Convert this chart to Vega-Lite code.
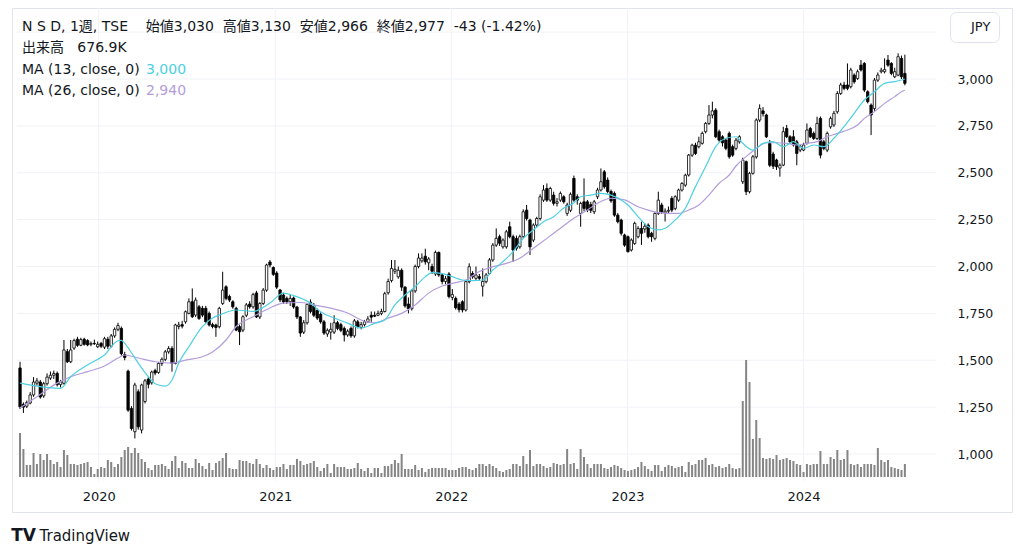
{
  "$schema": "https://vega.github.io/schema/vega-lite/v6.json",
  "width": 1000,
  "height": 504,
  "autosize": {"type": "none"},
  "padding": {"left": 12, "top": 8, "right": 12, "bottom": 45},
  "background": "#ffffff",
  "config": {
    "view": {"stroke": "#e0e3eb", "strokeWidth": 1},
    "font": "DejaVu Sans, Noto Sans CJK JP, sans-serif"
  },
  "title": {
    "text": ["N S D, 1週, TSE\u00a0\u00a0\u00a0 始値3,030\u00a0 高値3,130\u00a0 安値2,966\u00a0 終値2,977\u00a0 -43 (-1.42%)", "出来高\u00a0\u00a0 676.9K"],
    "anchor": "start",
    "frame": "group",
    "orient": "top",
    "offset": -47,
    "dx": 10,
    "fontSize": 14,
    "fontWeight": "normal",
    "font": "DejaVu Sans, Noto Sans CJK JP, sans-serif",
    "color": "#131722",
    "lineHeight": 21
  },
  "datasets": {
    "hgrid": [{"p": 1000}, {"p": 1250}, {"p": 1500}, {"p": 1750}, {"p": 2000}, {"p": 2250}, {"p": 2500}, {"p": 2750}, {"p": 3000}, {"p": 3250}],
    "vgrid": [{"t": "2020-01-01"}, {"t": "2021-01-01"}, {"t": "2022-01-01"}, {"t": "2023-01-01"}, {"t": "2024-01-01"}],
    "bars": [
{"d":"2019-07-22","o":1459,"h":1492,"l":1240,"c":1252,"v":2288},
{"d":"2019-07-29","o":1265,"h":1275,"l":1219,"c":1250,"v":1456},
{"d":"2019-08-05","o":1255,"h":1285,"l":1245,"c":1275,"v":624},
{"d":"2019-08-12","o":1272,"h":1330,"l":1265,"c":1315,"v":624},
{"d":"2019-08-19","o":1315,"h":1410,"l":1305,"c":1384,"v":1248},
{"d":"2019-08-26","o":1378,"h":1405,"l":1365,"c":1390,"v":676},
{"d":"2019-09-02","o":1384,"h":1395,"l":1295,"c":1304,"v":1196},
{"d":"2019-09-09","o":1310,"h":1385,"l":1300,"c":1375,"v":884},
{"d":"2019-09-16","o":1375,"h":1430,"l":1365,"c":1410,"v":1196},
{"d":"2019-09-23","o":1405,"h":1440,"l":1395,"c":1420,"v":884},
{"d":"2019-09-30","o":1420,"h":1445,"l":1400,"c":1430,"v":676},
{"d":"2019-10-07","o":1430,"h":1440,"l":1360,"c":1370,"v":780},
{"d":"2019-10-14","o":1370,"h":1395,"l":1355,"c":1385,"v":520},
{"d":"2019-10-21","o":1377,"h":1608,"l":1370,"c":1555,"v":1404},
{"d":"2019-10-28","o":1546,"h":1560,"l":1485,"c":1492,"v":1144},
{"d":"2019-11-04","o":1492,"h":1608,"l":1485,"c":1555,"v":676},
{"d":"2019-11-11","o":1565,"h":1615,"l":1555,"c":1605,"v":676},
{"d":"2019-11-18","o":1612,"h":1625,"l":1572,"c":1580,"v":624},
{"d":"2019-11-25","o":1580,"h":1620,"l":1575,"c":1610,"v":676},
{"d":"2019-12-02","o":1612,"h":1620,"l":1578,"c":1585,"v":728},
{"d":"2019-12-09","o":1605,"h":1612,"l":1575,"c":1582,"v":780},
{"d":"2019-12-16","o":1585,"h":1600,"l":1575,"c":1590,"v":520},
{"d":"2019-12-23","o":1590,"h":1610,"l":1582,"c":1588,"v":156},
{"d":"2019-12-30","o":1572,"h":1600,"l":1565,"c":1585,"v":416},
{"d":"2020-01-06","o":1590,"h":1598,"l":1565,"c":1575,"v":520},
{"d":"2020-01-13","o":1570,"h":1625,"l":1560,"c":1615,"v":468},
{"d":"2020-01-20","o":1612,"h":1625,"l":1560,"c":1575,"v":884},
{"d":"2020-01-27","o":1575,"h":1640,"l":1568,"c":1630,"v":780},
{"d":"2020-02-03","o":1630,"h":1675,"l":1620,"c":1665,"v":520},
{"d":"2020-02-10","o":1665,"h":1700,"l":1655,"c":1685,"v":676},
{"d":"2020-02-17","o":1670,"h":1680,"l":1525,"c":1535,"v":1040},
{"d":"2020-02-24","o":1530,"h":1545,"l":1500,"c":1515,"v":1404},
{"d":"2020-03-02","o":1442,"h":1450,"l":1225,"c":1234,"v":1560},
{"d":"2020-03-09","o":1243,"h":1255,"l":1125,"c":1136,"v":1248},
{"d":"2020-03-16","o":1119,"h":1380,"l":1083,"c":1368,"v":1508},
{"d":"2020-03-23","o":1332,"h":1345,"l":1130,"c":1145,"v":1248},
{"d":"2020-03-30","o":1128,"h":1375,"l":1110,"c":1368,"v":936},
{"d":"2020-04-06","o":1280,"h":1400,"l":1270,"c":1390,"v":780},
{"d":"2020-04-13","o":1400,"h":1410,"l":1350,"c":1372,"v":468},
{"d":"2020-04-20","o":1380,"h":1445,"l":1370,"c":1437,"v":364},
{"d":"2020-04-27","o":1445,"h":1455,"l":1420,"c":1432,"v":624},
{"d":"2020-05-04","o":1435,"h":1490,"l":1428,"c":1483,"v":624},
{"d":"2020-05-11","o":1483,"h":1515,"l":1470,"c":1505,"v":676},
{"d":"2020-05-18","o":1505,"h":1555,"l":1495,"c":1545,"v":572},
{"d":"2020-05-25","o":1545,"h":1575,"l":1535,"c":1563,"v":416},
{"d":"2020-06-01","o":1563,"h":1575,"l":1439,"c":1483,"v":832},
{"d":"2020-06-08","o":1483,"h":1695,"l":1478,"c":1688,"v":1092},
{"d":"2020-06-15","o":1680,"h":1705,"l":1665,"c":1688,"v":468},
{"d":"2020-06-22","o":1690,"h":1710,"l":1670,"c":1682,"v":832},
{"d":"2020-06-29","o":1705,"h":1765,"l":1695,"c":1759,"v":728},
{"d":"2020-07-06","o":1750,"h":1830,"l":1745,"c":1812,"v":468},
{"d":"2020-07-13","o":1812,"h":1883,"l":1725,"c":1732,"v":468},
{"d":"2020-07-20","o":1741,"h":1835,"l":1730,"c":1821,"v":936},
{"d":"2020-07-27","o":1785,"h":1795,"l":1715,"c":1723,"v":728},
{"d":"2020-08-03","o":1777,"h":1790,"l":1730,"c":1741,"v":572},
{"d":"2020-08-10","o":1777,"h":1790,"l":1700,"c":1705,"v":416},
{"d":"2020-08-17","o":1750,"h":1760,"l":1680,"c":1688,"v":728},
{"d":"2020-08-24","o":1690,"h":1700,"l":1670,"c":1680,"v":364},
{"d":"2020-08-31","o":1688,"h":1695,"l":1625,"c":1675,"v":728},
{"d":"2020-09-07","o":1679,"h":1785,"l":1670,"c":1777,"v":832},
{"d":"2020-09-14","o":1803,"h":1972,"l":1795,"c":1874,"v":988},
{"d":"2020-09-21","o":1892,"h":1900,"l":1820,"c":1830,"v":1248},
{"d":"2020-09-28","o":1840,"h":1850,"l":1810,"c":1821,"v":468},
{"d":"2020-10-05","o":1812,"h":1820,"l":1775,"c":1785,"v":416},
{"d":"2020-10-12","o":1777,"h":1785,"l":1655,"c":1661,"v":416},
{"d":"2020-10-19","o":1679,"h":1690,"l":1581,"c":1652,"v":884},
{"d":"2020-10-26","o":1661,"h":1740,"l":1650,"c":1732,"v":832},
{"d":"2020-11-02","o":1740,"h":1805,"l":1730,"c":1795,"v":832},
{"d":"2020-11-09","o":1800,"h":1815,"l":1775,"c":1785,"v":728},
{"d":"2020-11-16","o":1785,"h":1860,"l":1775,"c":1850,"v":676},
{"d":"2020-11-23","o":1859,"h":1870,"l":1725,"c":1731,"v":936},
{"d":"2020-11-30","o":1731,"h":1810,"l":1720,"c":1803,"v":676},
{"d":"2020-12-07","o":1803,"h":1885,"l":1795,"c":1874,"v":468},
{"d":"2020-12-14","o":1874,"h":2015,"l":1865,"c":2008,"v":624},
{"d":"2020-12-21","o":2024,"h":2035,"l":1995,"c":2008,"v":468},
{"d":"2020-12-28","o":1995,"h":2000,"l":1950,"c":1958,"v":364},
{"d":"2021-01-04","o":1965,"h":1975,"l":1880,"c":1890,"v":520},
{"d":"2021-01-11","o":1875,"h":1880,"l":1810,"c":1822,"v":520},
{"d":"2021-01-18","o":1848,"h":1860,"l":1800,"c":1811,"v":676},
{"d":"2021-01-25","o":1830,"h":1840,"l":1800,"c":1812,"v":416},
{"d":"2021-02-01","o":1812,"h":1850,"l":1790,"c":1830,"v":624},
{"d":"2021-02-08","o":1832,"h":1840,"l":1775,"c":1784,"v":624},
{"d":"2021-02-15","o":1784,"h":1790,"l":1720,"c":1731,"v":936},
{"d":"2021-02-22","o":1731,"h":1735,"l":1625,"c":1645,"v":832},
{"d":"2021-03-01","o":1650,"h":1715,"l":1640,"c":1700,"v":624},
{"d":"2021-03-08","o":1700,"h":1805,"l":1690,"c":1798,"v":676},
{"d":"2021-03-15","o":1810,"h":1825,"l":1750,"c":1760,"v":728},
{"d":"2021-03-22","o":1790,"h":1805,"l":1730,"c":1740,"v":832},
{"d":"2021-03-29","o":1765,"h":1775,"l":1715,"c":1725,"v":520},
{"d":"2021-04-05","o":1745,"h":1755,"l":1695,"c":1705,"v":312},
{"d":"2021-04-12","o":1705,"h":1715,"l":1635,"c":1645,"v":468},
{"d":"2021-04-19","o":1640,"h":1670,"l":1625,"c":1660,"v":676},
{"d":"2021-04-26","o":1650,"h":1700,"l":1610,"c":1665,"v":208},
{"d":"2021-05-03","o":1650,"h":1740,"l":1640,"c":1700,"v":676},
{"d":"2021-05-10","o":1700,"h":1710,"l":1660,"c":1670,"v":520},
{"d":"2021-05-17","o":1690,"h":1700,"l":1650,"c":1660,"v":520},
{"d":"2021-05-24","o":1670,"h":1680,"l":1600,"c":1635,"v":520},
{"d":"2021-05-31","o":1635,"h":1665,"l":1625,"c":1655,"v":416},
{"d":"2021-06-07","o":1670,"h":1680,"l":1620,"c":1630,"v":416},
{"d":"2021-06-14","o":1630,"h":1720,"l":1620,"c":1710,"v":468},
{"d":"2021-06-21","o":1705,"h":1715,"l":1670,"c":1680,"v":728},
{"d":"2021-06-28","o":1675,"h":1705,"l":1665,"c":1690,"v":416},
{"d":"2021-07-05","o":1690,"h":1715,"l":1680,"c":1705,"v":312},
{"d":"2021-07-12","o":1705,"h":1735,"l":1700,"c":1720,"v":468},
{"d":"2021-07-19","o":1740,"h":1760,"l":1705,"c":1730,"v":208},
{"d":"2021-07-26","o":1740,"h":1760,"l":1730,"c":1735,"v":468},
{"d":"2021-08-02","o":1740,"h":1765,"l":1735,"c":1750,"v":468},
{"d":"2021-08-09","o":1750,"h":1775,"l":1740,"c":1760,"v":208},
{"d":"2021-08-16","o":1760,"h":1865,"l":1755,"c":1855,"v":572},
{"d":"2021-08-23","o":1860,"h":1935,"l":1850,"c":1920,"v":572},
{"d":"2021-08-30","o":1925,"h":2035,"l":1915,"c":1990,"v":676},
{"d":"2021-09-06","o":1975,"h":2035,"l":1960,"c":1985,"v":884},
{"d":"2021-09-13","o":1945,"h":2000,"l":1935,"c":1980,"v":728},
{"d":"2021-09-20","o":1980,"h":1990,"l":1870,"c":1890,"v":1196},
{"d":"2021-09-27","o":1890,"h":1895,"l":1780,"c":1790,"v":416},
{"d":"2021-10-04","o":1800,"h":1835,"l":1750,"c":1775,"v":416},
{"d":"2021-10-11","o":1775,"h":1880,"l":1765,"c":1870,"v":416},
{"d":"2021-10-18","o":1870,"h":2010,"l":1860,"c":2000,"v":624},
{"d":"2021-10-25","o":2000,"h":2070,"l":1990,"c":2045,"v":364},
{"d":"2021-11-01","o":2030,"h":2070,"l":2020,"c":2045,"v":468},
{"d":"2021-11-08","o":2055,"h":2095,"l":2010,"c":2025,"v":260},
{"d":"2021-11-15","o":2020,"h":2050,"l":1980,"c":2040,"v":416},
{"d":"2021-11-22","o":2000,"h":2015,"l":1960,"c":1975,"v":468},
{"d":"2021-11-29","o":1960,"h":2085,"l":1950,"c":2075,"v":468},
{"d":"2021-12-06","o":2075,"h":2080,"l":1945,"c":1955,"v":468},
{"d":"2021-12-13","o":1955,"h":1965,"l":1905,"c":1920,"v":468},
{"d":"2021-12-20","o":1920,"h":1950,"l":1905,"c":1935,"v":468},
{"d":"2021-12-27","o":1960,"h":1970,"l":1830,"c":1840,"v":364},
{"d":"2022-01-03","o":1835,"h":1880,"l":1820,"c":1850,"v":364},
{"d":"2022-01-10","o":1830,"h":1840,"l":1770,"c":1780,"v":364},
{"d":"2022-01-17","o":1800,"h":1810,"l":1755,"c":1770,"v":468},
{"d":"2022-01-24","o":1812,"h":1820,"l":1755,"c":1768,"v":520},
{"d":"2022-01-31","o":1768,"h":1925,"l":1760,"c":1919,"v":520},
{"d":"2022-02-07","o":1919,"h":2017,"l":1910,"c":1999,"v":416},
{"d":"2022-02-14","o":1963,"h":1975,"l":1935,"c":1945,"v":364},
{"d":"2022-02-21","o":1937,"h":2000,"l":1925,"c":1955,"v":468},
{"d":"2022-02-28","o":1946,"h":1960,"l":1925,"c":1937,"v":676},
{"d":"2022-03-07","o":1895,"h":1990,"l":1840,"c":1920,"v":676},
{"d":"2022-03-14","o":1919,"h":1965,"l":1910,"c":1955,"v":572},
{"d":"2022-03-21","o":1963,"h":2045,"l":1955,"c":2035,"v":676},
{"d":"2022-03-28","o":2035,"h":2125,"l":2025,"c":2114,"v":572},
{"d":"2022-04-04","o":2114,"h":2203,"l":2105,"c":2150,"v":468},
{"d":"2022-04-11","o":2159,"h":2170,"l":2110,"c":2124,"v":312},
{"d":"2022-04-18","o":2105,"h":2150,"l":2095,"c":2141,"v":260},
{"d":"2022-04-25","o":2105,"h":2195,"l":2095,"c":2185,"v":364},
{"d":"2022-05-02","o":2212,"h":2239,"l":2150,"c":2159,"v":416},
{"d":"2022-05-09","o":2159,"h":2170,"l":2025,"c":2088,"v":676},
{"d":"2022-05-16","o":2150,"h":2165,"l":2085,"c":2097,"v":676},
{"d":"2022-05-23","o":2105,"h":2170,"l":2095,"c":2159,"v":572},
{"d":"2022-05-30","o":2159,"h":2305,"l":2150,"c":2292,"v":1092},
{"d":"2022-06-06","o":2301,"h":2328,"l":2245,"c":2256,"v":676},
{"d":"2022-06-13","o":2248,"h":2255,"l":2061,"c":2105,"v":1404},
{"d":"2022-06-20","o":2141,"h":2230,"l":2130,"c":2221,"v":572},
{"d":"2022-06-27","o":2221,"h":2265,"l":2210,"c":2256,"v":676},
{"d":"2022-07-04","o":2256,"h":2385,"l":2245,"c":2372,"v":676},
{"d":"2022-07-11","o":2354,"h":2434,"l":2345,"c":2408,"v":572},
{"d":"2022-07-18","o":2416,"h":2443,"l":2345,"c":2354,"v":468},
{"d":"2022-07-25","o":2354,"h":2425,"l":2345,"c":2416,"v":520},
{"d":"2022-08-01","o":2381,"h":2399,"l":2325,"c":2337,"v":728},
{"d":"2022-08-08","o":2337,"h":2365,"l":2320,"c":2345,"v":676},
{"d":"2022-08-15","o":2354,"h":2400,"l":2345,"c":2390,"v":624},
{"d":"2022-08-22","o":2372,"h":2380,"l":2335,"c":2345,"v":676},
{"d":"2022-08-29","o":2283,"h":2340,"l":2270,"c":2328,"v":1456},
{"d":"2022-09-05","o":2300,"h":2395,"l":2290,"c":2385,"v":676},
{"d":"2022-09-12","o":2470,"h":2485,"l":2345,"c":2354,"v":728},
{"d":"2022-09-19","o":2372,"h":2385,"l":2330,"c":2354,"v":416},
{"d":"2022-09-26","o":2283,"h":2345,"l":2212,"c":2336,"v":1456},
{"d":"2022-10-03","o":2345,"h":2470,"l":2295,"c":2310,"v":1040},
{"d":"2022-10-10","o":2345,"h":2355,"l":2290,"c":2301,"v":676},
{"d":"2022-10-17","o":2330,"h":2345,"l":2285,"c":2300,"v":468},
{"d":"2022-10-24","o":2292,"h":2355,"l":2280,"c":2345,"v":676},
{"d":"2022-10-31","o":2372,"h":2420,"l":2360,"c":2408,"v":676},
{"d":"2022-11-07","o":2408,"h":2523,"l":2400,"c":2452,"v":676},
{"d":"2022-11-14","o":2505,"h":2515,"l":2415,"c":2425,"v":468},
{"d":"2022-11-21","o":2461,"h":2475,"l":2390,"c":2400,"v":416},
{"d":"2022-11-28","o":2400,"h":2410,"l":2340,"c":2350,"v":520},
{"d":"2022-12-05","o":2390,"h":2400,"l":2265,"c":2274,"v":624},
{"d":"2022-12-12","o":2274,"h":2285,"l":2230,"c":2239,"v":572},
{"d":"2022-12-19","o":2248,"h":2255,"l":2165,"c":2177,"v":468},
{"d":"2022-12-26","o":2168,"h":2175,"l":2105,"c":2114,"v":364},
{"d":"2023-01-02","o":2159,"h":2165,"l":2075,"c":2079,"v":312},
{"d":"2023-01-09","o":2088,"h":2150,"l":2080,"c":2141,"v":364},
{"d":"2023-01-16","o":2123,"h":2239,"l":2115,"c":2230,"v":416},
{"d":"2023-01-23","o":2159,"h":2215,"l":2150,"c":2203,"v":520},
{"d":"2023-01-30","o":2203,"h":2239,"l":2115,"c":2177,"v":780},
{"d":"2023-02-06","o":2200,"h":2230,"l":2180,"c":2215,"v":572},
{"d":"2023-02-13","o":2221,"h":2230,"l":2150,"c":2159,"v":416},
{"d":"2023-02-20","o":2177,"h":2185,"l":2132,"c":2159,"v":312},
{"d":"2023-02-27","o":2150,"h":2290,"l":2140,"c":2283,"v":624},
{"d":"2023-03-06","o":2283,"h":2399,"l":2275,"c":2354,"v":624},
{"d":"2023-03-13","o":2328,"h":2340,"l":2280,"c":2292,"v":312},
{"d":"2023-03-20","o":2285,"h":2310,"l":2240,"c":2295,"v":520},
{"d":"2023-03-27","o":2295,"h":2320,"l":2285,"c":2300,"v":624},
{"d":"2023-04-03","o":2363,"h":2375,"l":2290,"c":2301,"v":572},
{"d":"2023-04-10","o":2310,"h":2380,"l":2300,"c":2372,"v":468},
{"d":"2023-04-17","o":2354,"h":2415,"l":2345,"c":2408,"v":520},
{"d":"2023-04-24","o":2408,"h":2450,"l":2400,"c":2443,"v":572},
{"d":"2023-05-01","o":2434,"h":2495,"l":2425,"c":2487,"v":260},
{"d":"2023-05-08","o":2488,"h":2600,"l":2480,"c":2594,"v":780},
{"d":"2023-05-15","o":2594,"h":2655,"l":2585,"c":2647,"v":624},
{"d":"2023-05-22","o":2647,"h":2660,"l":2595,"c":2603,"v":676},
{"d":"2023-05-29","o":2639,"h":2692,"l":2630,"c":2665,"v":884},
{"d":"2023-06-05","o":2657,"h":2720,"l":2650,"c":2710,"v":884},
{"d":"2023-06-12","o":2719,"h":2770,"l":2710,"c":2763,"v":988},
{"d":"2023-06-19","o":2763,"h":2861,"l":2755,"c":2808,"v":624},
{"d":"2023-06-26","o":2808,"h":2879,"l":2790,"c":2830,"v":676},
{"d":"2023-07-03","o":2834,"h":2845,"l":2685,"c":2692,"v":520},
{"d":"2023-07-10","o":2719,"h":2730,"l":2665,"c":2674,"v":572},
{"d":"2023-07-17","o":2692,"h":2700,"l":2640,"c":2660,"v":468},
{"d":"2023-07-24","o":2674,"h":2685,"l":2620,"c":2630,"v":520},
{"d":"2023-07-31","o":2710,"h":2720,"l":2575,"c":2585,"v":676},
{"d":"2023-08-07","o":2639,"h":2650,"l":2585,"c":2594,"v":468},
{"d":"2023-08-14","o":2630,"h":2685,"l":2620,"c":2674,"v":416},
{"d":"2023-08-21","o":2665,"h":2700,"l":2655,"c":2692,"v":468},
{"d":"2023-08-28","o":2452,"h":2580,"l":2440,"c":2568,"v":3952},
{"d":"2023-09-04","o":2559,"h":2565,"l":2381,"c":2399,"v":6084},
{"d":"2023-09-11","o":2399,"h":2505,"l":2390,"c":2497,"v":4940},
{"d":"2023-09-18","o":2497,"h":2595,"l":2490,"c":2585,"v":1976},
{"d":"2023-09-25","o":2585,"h":2790,"l":2575,"c":2781,"v":2964},
{"d":"2023-10-02","o":2781,"h":2865,"l":2770,"c":2843,"v":2028},
{"d":"2023-10-09","o":2830,"h":2850,"l":2800,"c":2815,"v":988},
{"d":"2023-10-16","o":2808,"h":2815,"l":2685,"c":2692,"v":936},
{"d":"2023-10-23","o":2657,"h":2675,"l":2530,"c":2540,"v":988},
{"d":"2023-10-30","o":2600,"h":2612,"l":2520,"c":2535,"v":936},
{"d":"2023-11-06","o":2568,"h":2575,"l":2515,"c":2532,"v":1144},
{"d":"2023-11-13","o":2525,"h":2550,"l":2479,"c":2540,"v":884},
{"d":"2023-11-20","o":2541,"h":2745,"l":2535,"c":2719,"v":936},
{"d":"2023-11-27","o":2736,"h":2755,"l":2685,"c":2692,"v":988},
{"d":"2023-12-04","o":2692,"h":2700,"l":2655,"c":2665,"v":884},
{"d":"2023-12-11","o":2692,"h":2727,"l":2640,"c":2648,"v":832},
{"d":"2023-12-18","o":2665,"h":2675,"l":2540,"c":2603,"v":676},
{"d":"2023-12-25","o":2621,"h":2650,"l":2610,"c":2640,"v":624},
{"d":"2024-01-01","o":2621,"h":2660,"l":2615,"c":2648,"v":260},
{"d":"2024-01-08","o":2657,"h":2763,"l":2650,"c":2728,"v":676},
{"d":"2024-01-15","o":2736,"h":2745,"l":2685,"c":2692,"v":624},
{"d":"2024-01-22","o":2710,"h":2720,"l":2675,"c":2683,"v":676},
{"d":"2024-01-29","o":2683,"h":2799,"l":2675,"c":2763,"v":676},
{"d":"2024-02-05","o":2790,"h":2800,"l":2577,"c":2594,"v":1352},
{"d":"2024-02-12","o":2665,"h":2675,"l":2620,"c":2630,"v":676},
{"d":"2024-02-19","o":2621,"h":2720,"l":2610,"c":2710,"v":676},
{"d":"2024-02-26","o":2745,"h":2800,"l":2735,"c":2790,"v":1040},
{"d":"2024-03-04","o":2755,"h":2830,"l":2745,"c":2817,"v":936},
{"d":"2024-03-11","o":2825,"h":2935,"l":2815,"c":2923,"v":1404},
{"d":"2024-03-18","o":2923,"h":2980,"l":2915,"c":2968,"v":884},
{"d":"2024-03-25","o":2968,"h":2985,"l":2940,"c":2950,"v":936},
{"d":"2024-04-01","o":2968,"h":3083,"l":2940,"c":2950,"v":1404},
{"d":"2024-04-08","o":2959,"h":3060,"l":2950,"c":3048,"v":676},
{"d":"2024-04-15","o":3021,"h":3030,"l":2975,"c":2985,"v":624},
{"d":"2024-04-22","o":3003,"h":3050,"l":2995,"c":3039,"v":676},
{"d":"2024-04-29","o":3074,"h":3101,"l":3040,"c":3048,"v":520},
{"d":"2024-05-06","o":3083,"h":3090,"l":2930,"c":2941,"v":676},
{"d":"2024-05-13","o":2932,"h":2940,"l":2870,"c":2879,"v":676},
{"d":"2024-05-20","o":2861,"h":2870,"l":2701,"c":2808,"v":676},
{"d":"2024-05-27","o":2843,"h":3005,"l":2830,"c":2994,"v":624},
{"d":"2024-06-03","o":2994,"h":3035,"l":2985,"c":3021,"v":1508},
{"d":"2024-06-10","o":3039,"h":3060,"l":3030,"c":3047,"v":884},
{"d":"2024-06-17","o":3039,"h":3110,"l":3030,"c":3050,"v":780},
{"d":"2024-06-24","o":3101,"h":3128,"l":3065,"c":3074,"v":884},
{"d":"2024-07-01","o":3083,"h":3090,"l":3020,"c":3030,"v":520},
{"d":"2024-07-08","o":3012,"h":3060,"l":3005,"c":3039,"v":468},
{"d":"2024-07-15","o":3021,"h":3137,"l":3015,"c":3119,"v":416},
{"d":"2024-07-22","o":3110,"h":3125,"l":3000,"c":3012,"v":364},
{"d":"2024-07-29","o":3030,"h":3130,"l":2966,"c":2977,"v":677}
    ],
    "ma13": [
{"d":"2019-07-22","m":1378},{"d":"2019-08-19","m":1365},{"d":"2019-09-16","m":1355},{"d":"2019-10-14","m":1350},
{"d":"2019-11-04","m":1412},{"d":"2019-12-09","m":1475},{"d":"2020-01-13","m":1528},{"d":"2020-02-10","m":1604},
{"d":"2020-02-17","m":1606},{"d":"2020-02-24","m":1590},{"d":"2020-03-09","m":1540},{"d":"2020-03-23","m":1485},
{"d":"2020-04-13","m":1412},{"d":"2020-04-27","m":1375},{"d":"2020-05-18","m":1362},{"d":"2020-06-01","m":1395},
{"d":"2020-06-15","m":1485},{"d":"2020-07-06","m":1572},{"d":"2020-08-03","m":1679},{"d":"2020-08-24","m":1725},
{"d":"2020-09-07","m":1741},{"d":"2020-10-12","m":1768},{"d":"2020-11-16","m":1760},{"d":"2020-12-21","m":1805},
{"d":"2021-01-18","m":1858},{"d":"2021-02-08","m":1845},{"d":"2021-03-15","m":1805},{"d":"2021-04-05","m":1759},
{"d":"2021-05-03","m":1725},{"d":"2021-05-31","m":1698},{"d":"2021-06-28","m":1672},{"d":"2021-07-26","m":1697},
{"d":"2021-08-16","m":1715},{"d":"2021-09-06","m":1795},{"d":"2021-09-27","m":1848},{"d":"2021-10-18","m":1892},
{"d":"2021-11-08","m":1946},{"d":"2021-11-22","m":1967},{"d":"2021-12-13","m":1962},{"d":"2022-01-03","m":1946},
{"d":"2022-01-24","m":1928},{"d":"2022-02-14","m":1925},{"d":"2022-03-07","m":1928},{"d":"2022-03-28","m":1981},
{"d":"2022-04-18","m":2026},{"d":"2022-05-09","m":2079},{"d":"2022-05-30","m":2150},{"d":"2022-06-20","m":2195},
{"d":"2022-07-11","m":2239},{"d":"2022-08-01","m":2266},{"d":"2022-08-22","m":2312},{"d":"2022-09-12","m":2339},
{"d":"2022-09-26","m":2372},{"d":"2022-10-17","m":2381},{"d":"2022-11-07","m":2390},{"d":"2022-11-28","m":2381},
{"d":"2022-12-19","m":2355},{"d":"2023-01-02","m":2328},{"d":"2023-01-23","m":2266},{"d":"2023-02-13","m":2212},
{"d":"2023-03-06","m":2195},{"d":"2023-03-20","m":2204},{"d":"2023-04-10","m":2248},{"d":"2023-05-01","m":2310},
{"d":"2023-05-22","m":2426},{"d":"2023-06-12","m":2532},{"d":"2023-07-03","m":2639},{"d":"2023-07-24","m":2684},
{"d":"2023-08-14","m":2692},{"d":"2023-08-28","m":2657},{"d":"2023-09-18","m":2621},{"d":"2023-10-09","m":2657},
{"d":"2023-10-30","m":2666},{"d":"2023-11-20","m":2639},{"d":"2023-12-11","m":2666},{"d":"2024-01-01","m":2630},
{"d":"2024-01-22","m":2648},{"d":"2024-02-12","m":2639},{"d":"2024-03-04","m":2684},{"d":"2024-03-25","m":2746},
{"d":"2024-04-15","m":2817},{"d":"2024-05-06","m":2888},{"d":"2024-05-27","m":2932},{"d":"2024-06-17","m":2977},
{"d":"2024-07-08","m":2986},{"d":"2024-07-29","m":3000}
    ],
    "ma26": [
{"d":"2019-07-22","m":1245},{"d":"2019-08-26","m":1306},{"d":"2019-10-07","m":1378},{"d":"2019-11-04","m":1412},
{"d":"2019-12-09","m":1439},{"d":"2020-01-13","m":1469},{"d":"2020-02-10","m":1512},{"d":"2020-02-24","m":1528},
{"d":"2020-03-23","m":1512},{"d":"2020-04-27","m":1492},{"d":"2020-06-01","m":1485},{"d":"2020-06-29","m":1501},
{"d":"2020-08-03","m":1519},{"d":"2020-08-24","m":1544},{"d":"2020-09-21","m":1608},{"d":"2020-10-12","m":1680},
{"d":"2020-11-16","m":1732},{"d":"2020-12-21","m":1779},{"d":"2021-01-18","m":1805},{"d":"2021-02-22","m":1808},
{"d":"2021-03-22","m":1795},{"d":"2021-04-26","m":1778},{"d":"2021-05-31","m":1752},{"d":"2021-06-28","m":1715},
{"d":"2021-07-26","m":1700},{"d":"2021-08-23","m":1725},{"d":"2021-09-20","m":1750},{"d":"2021-10-18","m":1795},
{"d":"2021-11-15","m":1858},{"d":"2021-12-13","m":1896},{"d":"2022-01-03","m":1910},{"d":"2022-01-31","m":1928},
{"d":"2022-02-28","m":1973},{"d":"2022-03-28","m":1999},{"d":"2022-04-25","m":2017},{"d":"2022-05-23","m":2044},
{"d":"2022-06-20","m":2097},{"d":"2022-07-18","m":2150},{"d":"2022-08-15","m":2204},{"d":"2022-09-12","m":2257},
{"d":"2022-10-10","m":2301},{"d":"2022-10-31","m":2337},{"d":"2022-11-28","m":2364},{"d":"2022-12-26","m":2355},
{"d":"2023-01-23","m":2319},{"d":"2023-02-13","m":2301},{"d":"2023-03-06","m":2287},{"d":"2023-03-27","m":2283},
{"d":"2023-04-17","m":2283},{"d":"2023-05-08","m":2301},{"d":"2023-05-29","m":2328},{"d":"2023-06-19","m":2381},
{"d":"2023-07-10","m":2444},{"d":"2023-07-31","m":2488},{"d":"2023-08-14","m":2536},{"d":"2023-09-04","m":2586},
{"d":"2023-09-25","m":2630},{"d":"2023-10-16","m":2660},{"d":"2023-11-06","m":2660},{"d":"2023-11-27","m":2657},
{"d":"2023-12-18","m":2648},{"d":"2024-01-08","m":2657},{"d":"2024-01-29","m":2666},{"d":"2024-02-19","m":2692},
{"d":"2024-03-11","m":2710},{"d":"2024-04-01","m":2728},{"d":"2024-04-22","m":2755},{"d":"2024-05-06","m":2790},
{"d":"2024-05-27","m":2826},{"d":"2024-06-17","m":2870},{"d":"2024-07-08","m":2906},{"d":"2024-07-22","m":2932},
{"d":"2024-07-29","m":2940}
    ]
  },
  "layer": [
    {
      "data": {"name": "hgrid"},
      "mark": {"type": "rule", "color": "#f0f2f6", "strokeWidth": 1},
      "encoding": {
        "x": {"datum": {"year": 2019, "month": 7, "date": 15, "hours": 17, "utc": true}, "type": "temporal",
              "scale": {"domain": [{"year": 2019, "month": 7, "date": 15, "hours": 17, "utc": true}, {"year": 2025, "month": 2, "date": 25, "hours": 17, "utc": true}]}},
        "x2": {"datum": {"year": 2024, "month": 10, "date": 2, "utc": true}},
        "y": {"field": "p", "type": "quantitative", "scale": {"domain": [690.7, 3378.7]}, "axis": null}
      }
    },
    {
      "data": {"name": "vgrid"},
      "mark": {"type": "rule", "color": "#f0f2f6", "strokeWidth": 1},
      "encoding": {
        "x": {"field": "t", "type": "temporal"},
        "y": {"datum": 856, "type": "quantitative", "scale": {"domain": [690.7, 3378.7]}, "axis": null},
        "y2": {"datum": 3378}
      }
    },
    {
      "data": {"name": "bars"},
      "mark": {"type": "bar", "size": 2},
      "encoding": {
        "x": {"field": "d", "type": "temporal"},
        "y": {"field": "v", "type": "quantitative", "scale": {"domain": [-1820, 24388]},
              "axis": {"orient": "left", "labels": false, "ticks": false, "domain": false, "grid": false,
                       "title": "TV", "titleAngle": 0, "titleX": 11, "titleY": 527, "titleAlign": "center", "titleBaseline": "middle",
                       "titleFontSize": 17, "titleFontWeight": 900, "titleFont": "DejaVu Sans", "titleColor": "#131722"}},
        "y2": {"datum": 0},
        "color": {"datum": "\u00a0\u00a0\u00a0JPY\u00a0\u00a0\u00a0", "type": "nominal", "scale": {"range": ["#858585"]},
                  "legend": {"orient": "none", "legendX": 938, "legendY": 4, "title": null,
                             "labelFontSize": 13, "labelColor": "#131722", "labelFont": "DejaVu Sans",
                             "symbolSize": 0, "symbolOpacity": 0, "symbolStrokeWidth": 0, "labelOffset": 0,
                             "padding": 8, "strokeColor": "#e0e3eb", "cornerRadius": 6}}
      }
    },
    {
      "data": {"name": "bars"},
      "mark": {"type": "rule", "color": "#000000", "strokeWidth": 1},
      "encoding": {
        "x": {"field": "d", "type": "temporal"},
        "y": {"field": "l", "type": "quantitative", "scale": {"domain": [690.7, 3378.7]},
              "axis": {"orient": "right", "offset": -75, "values": [1000, 1250, 1500, 1750, 2000, 2250, 2500, 2750, 3000],
                       "format": ",d", "labelFontSize": 12.5, "labelPadding": 20, "labelColor": "#131722", "labelFont": "DejaVu Sans",
                       "ticks": false, "domain": false, "grid": false, "title": null}},
        "y2": {"field": "h"}
      }
    },
    {
      "data": {"name": "bars"},
      "mark": {"type": "bar", "size": 2.4, "stroke": "#000000", "strokeWidth": 0.8},
      "encoding": {
        "x": {"field": "d", "type": "temporal",
              "axis": {"orient": "bottom", "offset": -31, "format": "%Y",
                       "values": [{"year": 2020, "month": 1, "date": 1, "utc": true}, {"year": 2021, "month": 1, "date": 1, "utc": true}, {"year": 2022, "month": 1, "date": 1, "utc": true}, {"year": 2023, "month": 1, "date": 1, "utc": true}, {"year": 2024, "month": 1, "date": 1, "utc": true}],
                       "labelFontSize": 13, "labelColor": "#131722", "labelFont": "DejaVu Sans", "labelPadding": 9,
                       "ticks": false, "domain": false, "grid": false,
                       "title": "TradingView", "titleX": 27, "titleY": 54, "titleAlign": "left", "titleAnchor": "start",
                       "titleBaseline": "middle", "titleFontSize": 15, "titleFontWeight": "normal", "titleFont": "DejaVu Sans", "titleColor": "#131722"}},
        "y": {"field": "o", "type": "quantitative", "scale": {"domain": [690.7, 3378.7]}, "axis": null},
        "y2": {"field": "c"},
        "fill": {"condition": {"test": "datum.c >= datum.o", "value": "#ffffff"}, "value": "#000000"}
      }
    },
    {
      "data": {"name": "ma26"},
      "mark": {"type": "line", "strokeWidth": 1.2, "interpolate": "monotone"},
      "encoding": {
        "x": {"field": "d", "type": "temporal"},
        "y": {"field": "m", "type": "quantitative", "scale": {"domain": [690.7, 3378.7]}, "axis": null},
        "color": {"datum": "2,940", "type": "nominal", "scale": {"range": ["#b39ddb"]},
                  "legend": {"orient": "none", "legendX": 10, "legendY": 76, "title": "MA (26, close, 0)", "titleOrient": "left",
                             "titleFontSize": 14, "titleFontWeight": "normal", "titleColor": "#131722", "titleFont": "DejaVu Sans", "titlePadding": 4,
                             "labelFontSize": 14, "labelColor": "#b39ddb", "labelFont": "DejaVu Sans", "labelOffset": -12,
                             "symbolSize": 0, "symbolOpacity": 0, "symbolStrokeWidth": 0, "padding": 0}}
      }
    },
    {
      "data": {"name": "ma13"},
      "mark": {"type": "line", "strokeWidth": 1.2, "interpolate": "monotone"},
      "encoding": {
        "x": {"field": "d", "type": "temporal"},
        "y": {"field": "m", "type": "quantitative", "scale": {"domain": [690.7, 3378.7]}, "axis": null},
        "color": {"datum": "3,000", "type": "nominal", "scale": {"range": ["#4dd0e1"]},
                  "legend": {"orient": "none", "legendX": 10, "legendY": 55, "title": "MA (13, close, 0)", "titleOrient": "left",
                             "titleFontSize": 14, "titleFontWeight": "normal", "titleColor": "#131722", "titleFont": "DejaVu Sans", "titlePadding": 4,
                             "labelFontSize": 14, "labelColor": "#4dd0e1", "labelFont": "DejaVu Sans", "labelOffset": -12,
                             "symbolSize": 0, "symbolOpacity": 0, "symbolStrokeWidth": 0, "padding": 0}}
      }
    }
  ],
  "resolve": {"scale": {"y": "independent", "color": "independent"}}
}
